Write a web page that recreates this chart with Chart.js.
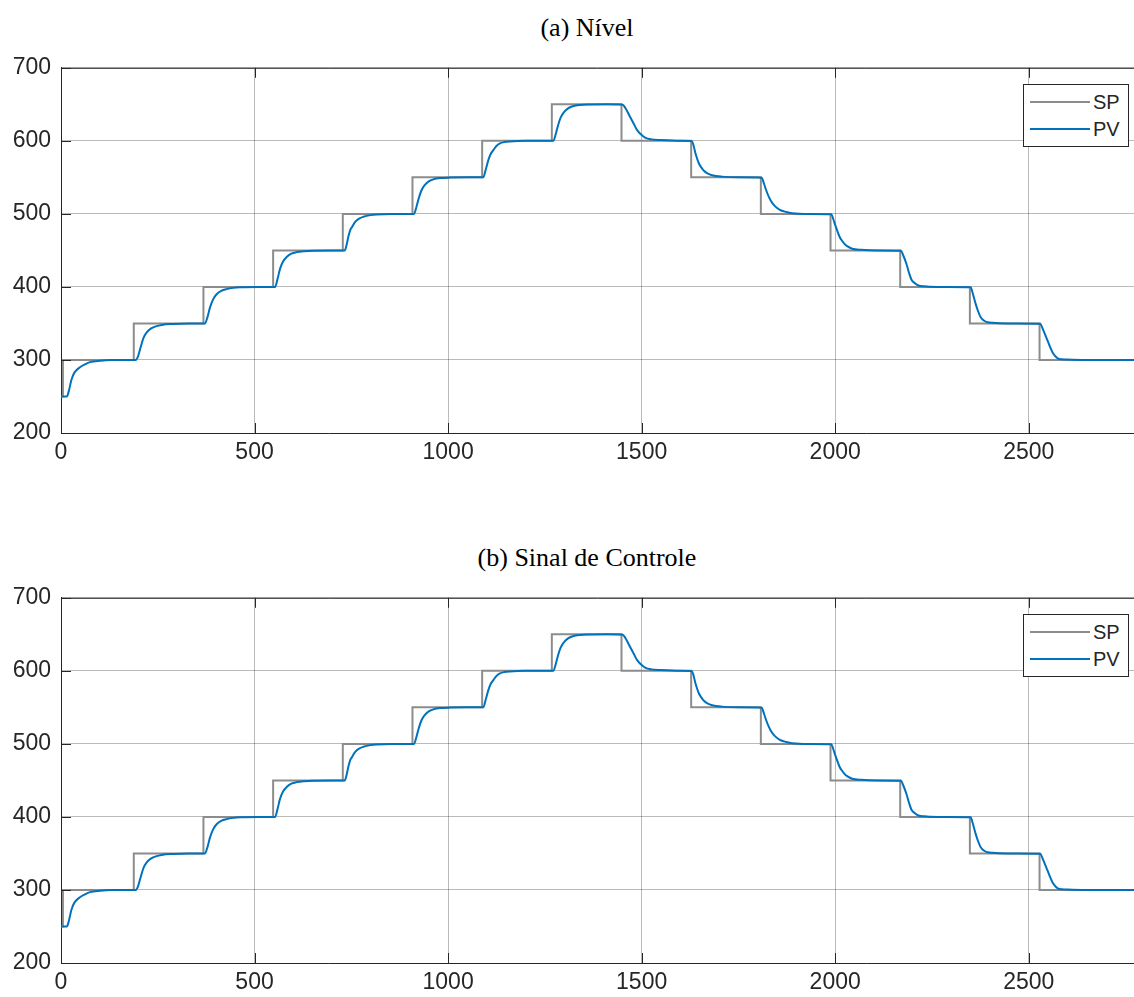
<!DOCTYPE html>
<html>
<head>
<meta charset="utf-8">
<script src="https://cdn.jsdelivr.net/npm/chart.js@4"></script>
<style>
  html, body { margin: 0; padding: 0; background: #fff; overflow: hidden; }
  .panel { position: absolute; left: 0; width: 1134px; height: 470px; }
  .title { position: absolute; top: 12px; left: 387px; width: 400px; text-align: center;
           font-family: "Liberation Serif", "Times New Roman", serif; font-size: 26px; color: #000; line-height: 32px; }
  .plot { position: absolute; top: 44px; left: 0; width: 1134px; height: 426px; }
  .legend { position: absolute; top: 84px; left: 1023px; width: 104px; height: 61px; background: #fff;
            border: 1px solid #262626; font-family: "Liberation Sans", Arial, sans-serif; font-size: 20px; color: #262626; }
  .legend .row { position: absolute; left: 6px; height: 24px; line-height: 24px; }
  .legend .swatch { position: absolute; left: 0; top: 11px; width: 60px; height: 2px; }
  .legend .lbl { position: absolute; left: 63px; top: 0; }
</style>
</head>
<body>
<div class="panel" style="top:0px">
  <div class="title">(a) Nível</div>
  <div class="plot"><canvas id="chartA"></canvas></div>
  <div class="legend">
    <div class="row" style="top:5px"><div class="swatch" style="background:#8c8c8c"></div><div class="lbl">SP</div></div>
    <div class="row" style="top:32px"><div class="swatch" style="background:#0072BD"></div><div class="lbl">PV</div></div>
  </div>
</div>
<div class="panel" style="top:530px">
  <div class="title">(b) Sinal de Controle</div>
  <div class="plot"><canvas id="chartB"></canvas></div>
  <div class="legend">
    <div class="row" style="top:5px"><div class="swatch" style="background:#8c8c8c"></div><div class="lbl">SP</div></div>
    <div class="row" style="top:32px"><div class="swatch" style="background:#0072BD"></div><div class="lbl">PV</div></div>
  </div>
</div>
<script>
// setpoint (step changes)
const spTime  = [0, 5, 188, 368, 548, 728, 908, 1088, 1268, 1448, 1628, 1808, 1988, 2168, 2348, 2528, 2780];
const spLevel = [250, 300, 350, 400, 450, 500, 550, 600, 650, 600, 550, 500, 450, 400, 350, 300, 300];

// process variable
const pvTime = [
  0, 15, 20, 27, 35, 49, 62, 75, 101, 130,
  193, 199, 205, 213, 222, 232, 245, 260, 290, 330,
  372, 378, 385, 393, 402, 414, 428, 445, 463, 510,
  553, 559, 566, 574, 583, 595, 609, 630, 651, 700,
  733, 738, 742, 747, 752, 760, 770, 781, 800, 815, 854,
  912, 918, 924, 931, 939, 950, 962, 980, 1005, 1050,
  1091, 1097, 1104, 1110, 1117, 1125, 1134, 1145, 1160, 1200,
  1272, 1278, 1284, 1291, 1299, 1310, 1322, 1340, 1365, 1410,
  1451, 1458, 1470, 1480, 1488, 1498, 1509, 1525, 1550, 1600,
  1630, 1634, 1639, 1648, 1655, 1661, 1670, 1682, 1707, 1750,
  1810, 1816, 1822, 1829, 1835, 1842, 1850, 1859, 1874, 1889, 1930,
  1990, 1995, 2000, 2006, 2012, 2016, 2024, 2032, 2044, 2067, 2110,
  2170, 2176, 2184, 2191, 2198, 2206, 2215, 2231, 2244, 2290,
  2350, 2355, 2363, 2369, 2376, 2384, 2394, 2408, 2423, 2470,
  2530, 2536, 2543, 2549, 2555, 2562, 2570, 2579, 2596, 2613, 2660, 2780
];
const pvLevel = [
  250, 250, 257, 273, 283, 290, 294, 297, 299, 300,
  300, 305, 316, 330, 338, 343, 346, 348, 349.3, 350,
  350, 358, 372, 383, 390, 394.5, 397, 398.7, 399.5, 400,
  400, 410, 425, 435, 441, 445.5, 447.7, 449, 449.6, 450,
  450, 458, 468, 477.5, 482, 489, 493.5, 496, 498.3, 499.2, 500,
  500, 509, 521, 532, 539, 544.5, 547.3, 549, 549.7, 550,
  550, 560, 573.6, 582, 587.4, 593, 596.5, 598.3, 599.2, 600,
  600, 609, 621, 632, 639, 644.5, 647.3, 649, 649.7, 650,
  649.5, 645, 633, 623, 615, 609, 604.5, 602, 601, 600,
  599.5, 594, 583, 569, 563, 559, 555.5, 553, 551, 550,
  549.5, 541.6, 532, 523, 517, 512, 508, 505, 502.5, 501, 500,
  499.5, 493, 485, 476, 468, 464.5, 459, 455.5, 452.3, 450.8, 450,
  449.5, 443, 431.7, 419, 409, 405, 402, 400.8, 400.4, 400,
  399.5, 392, 376.8, 367, 358.4, 354, 351.6, 350.8, 350.4, 350,
  349.5, 343, 334, 326, 318, 310, 304.5, 301.3, 300.6, 300.3, 300, 300
];

const xTicks = [0, 500, 1000, 1500, 2000, 2500];
const yTicks = [200, 300, 400, 500, 600, 700];

const textColor = '#262626';
const gridColor = 'rgba(0,0,0,0.27)';

// box line on top + small inward tick marks (matlab style)
const framePlugin = {
    id: 'frame',
    afterDraw(chart) {
        const {ctx, chartArea: a, scales} = chart
        ctx.save()
        ctx.strokeStyle = textColor
        ctx.lineWidth = 1
        ctx.beginPath()
        ctx.moveTo(a.left, a.top + 0.5)
        ctx.lineTo(a.right, a.top + 0.5)
        xTicks.forEach(v => {
            const x = Math.round(scales.x.getPixelForValue(v)) + 0.5
            ctx.moveTo(x, a.bottom); ctx.lineTo(x, a.bottom - 10)
            ctx.moveTo(x, a.top); ctx.lineTo(x, a.top + 10)
        })
        yTicks.forEach(v => {
            const y = Math.round(scales.y.getPixelForValue(v)) + 0.5
            ctx.moveTo(a.left, y); ctx.lineTo(a.left + 10, y)
        })
        ctx.stroke()
        ctx.restore()
    }
}

function makeChart(id) {
    const sp = spTime.map((t, i) => ({x: t, y: spLevel[i]}))
    const pv = pvTime.map((t, i) => ({x: t, y: pvLevel[i]}))
    return new Chart(document.getElementById(id), {
        type: 'line',
        data: {
            datasets: [
                {
                    label: 'PV',
                    data: pv,
                    borderColor: '#0072BD',
                    borderWidth: 2,
                    pointRadius: 0,
                    cubicInterpolationMode: 'monotone',
                    fill: false
                },
                {
                    label: 'SP',
                    data: sp,
                    borderColor: '#8c8c8c',
                    borderWidth: 2,
                    pointRadius: 0,
                    stepped: 'before',
                    fill: false
                }
            ]
        },
        options: {
            responsive: true,
            maintainAspectRatio: false,
            animation: false,
            layout: { padding: { top: 12, left: 0, right: 0, bottom: 0 } },
            plugins: {
                legend: { display: false },
                tooltip: { enabled: false }
            },
            scales: {
                x: {
                    type: 'linear',
                    min: 0,
                    max: 2772,
                    afterBuildTicks: scale => { scale.ticks = xTicks.map(v => ({value: v})) },
                    afterFit: scale => { scale.height = 37 },
                    ticks: {
                        color: textColor,
                        padding: 6,
                        maxRotation: 0,
                        callback: v => String(v),
                        font: { family: 'Liberation Sans', size: 23 }
                    },
                    grid: { color: gridColor, drawTicks: false },
                    border: { color: textColor, width: 1 }
                },
                y: {
                    min: 200,
                    max: 700,
                    afterBuildTicks: scale => { scale.ticks = yTicks.map(v => ({value: v})) },
                    afterFit: scale => { scale.width = 61 },
                    ticks: {
                        color: textColor,
                        padding: 10,
                        callback: v => String(v),
                        font: { family: 'Liberation Sans', size: 23 }
                    },
                    grid: { color: gridColor, drawTicks: false },
                    border: { color: textColor, width: 1 }
                }
            }
        },
        plugins: [framePlugin]
    })
}

makeChart('chartA')
makeChart('chartB')
</script>
</body>
</html>
